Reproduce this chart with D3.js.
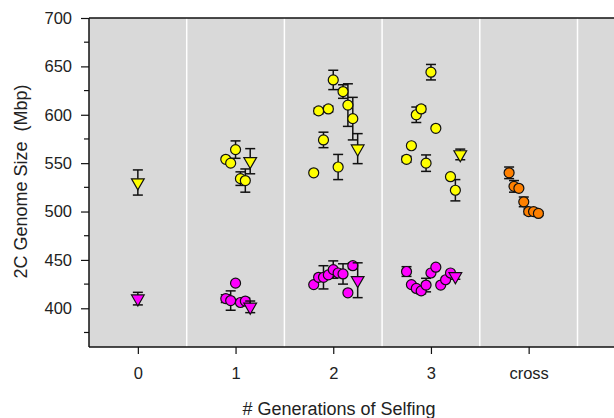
<!DOCTYPE html>
<html>
<head>
<meta charset="utf-8">
<script src="https://cdn.jsdelivr.net/npm/d3@7"></script>
<style>
  body { margin: 0; background: #fff; }
  text { font-family: "Liberation Sans", Arial, sans-serif; fill: #222; }
</style>
</head>
<body>
<div id="container"></div>
<script>
var width = 614,
    height = 418;

// category labels on the x axis (numeric positions 0..4)
var categories = ["0", "1", "2", "3", "cross"];
var yTicks = [400, 450, 500, 550, 600, 650, 700];
var yMinor = [375, 425, 475, 525, 575, 625, 675];

// upper group (yellow circles)
var upperX = [0.9, 0.95, 1.0, 1.05, 1.1,
              1.8, 1.85, 1.9, 1.95, 2.0, 2.05, 2.1, 2.15, 2.2,
              2.75, 2.8, 2.85, 2.9, 2.95, 3.0, 3.05, 3.2, 3.25];
var upperY = [554, 550, 564, 534, 532,
              540, 604, 574, 606, 636, 546, 624, 610, 596,
              554, 568, 600, 606, 550, 644, 586, 536, 522];
var upperErr = [0, 0, 9, 7, 12,
                0, 3, 8, 3, 10, 13, 7, 22, 22,
                3, 0, 8, 3, 8.5, 8, 0, 0, 11];

// upper group (yellow triangles)
var upperTriX = [0, 1.15, 2.25, 3.3];
var upperTriY = [530, 552, 565, 559];
var upperTriErr = [13, 13, 15.5, 5.5];

// lower group (magenta circles)
var lowerX = [0.9, 0.95, 1.0, 1.05, 1.1,
              1.8, 1.85, 1.9, 1.95, 2.0, 2.05, 2.1, 2.15, 2.2,
              2.75, 2.8, 2.85, 2.9, 2.95, 3.0, 3.05, 3.1, 3.15, 3.2];
var lowerY = [410, 408, 426, 406, 407.5,
              424.5, 432, 432, 434.5, 440, 436.5, 435.5, 416, 444,
              438, 424.5, 420.5, 418, 424, 436.5, 442.5, 424, 429.5, 436.5];
var lowerErr = [4, 10, 0, 0, 3,
                0, 0, 12, 0, 9, 0, 10.5, 0, 3,
                5, 0, 0, 3, 7, 0, 0, 0, 0, 0];

// lower group (magenta triangles)
var lowerTriX = [0, 1.15, 2.25, 3.25];
var lowerTriY = [410, 401.5, 429, 433];
var lowerTriErr = [6.5, 6, 18, 3];

// crosses (orange circles)
var crossX = [3.8, 3.85, 3.9, 3.95, 4.0, 4.05, 4.1];
var crossY = [540, 526, 524, 510, 500, 500, 498];
var crossErr = [6, 6, 0, 5, 3, 3, 2];

var svg = d3.select("#container").append("svg")
    .attr("width", width)
    .attr("height", height);

var pLeft = 89, pTop = 18, pBottom = 347;

var x = d3.scaleLinear()
    .domain([-0.5, 5.5])
    .range([pLeft, pLeft + 6 * 97.7]);

var y = d3.scaleLinear()
    .domain([360, 700])
    .range([pBottom, pTop]);

// plot background
svg.append("rect")
    .attr("x", pLeft)
    .attr("y", pTop)
    .attr("width", width - pLeft)
    .attr("height", pBottom - pTop)
    .attr("fill", "#d9d9d9");

// white separators between categories
svg.selectAll(".sep")
    .data([0.5, 1.5, 2.5, 3.5, 4.5])
    .enter().append("line")
    .attr("class", "sep")
    .attr("x1", d => x(d))
    .attr("x2", d => x(d))
    .attr("y1", pTop)
    .attr("y2", pBottom)
    .attr("stroke", "#fff")
    .attr("stroke-width", 1.5);

// top frame line
svg.append("line")
    .attr("x1", pLeft).attr("x2", width)
    .attr("y1", pTop).attr("y2", pTop)
    .attr("stroke", "#111")
    .attr("stroke-width", 1.5);

// y axis
var yAxis = d3.axisLeft(y)
    .tickValues(yTicks)
    .tickSize(8)
    .tickPadding(9);
var gy = svg.append("g")
    .attr("transform", "translate(" + pLeft + ",0)")
    .call(yAxis);
gy.select(".domain").remove();
gy.selectAll("text").style("font-size", "16.5px").attr("fill", "#222");
gy.selectAll("line").attr("stroke", "#111").attr("stroke-width", 1.2);

// minor ticks
svg.selectAll(".minor")
    .data(yMinor)
    .enter().append("line")
    .attr("x1", pLeft - 5)
    .attr("x2", pLeft)
    .attr("y1", d => y(d))
    .attr("y2", d => y(d))
    .attr("stroke", "#111")
    .attr("stroke-width", 1.2);

svg.append("line")
    .attr("x1", pLeft).attr("x2", pLeft)
    .attr("y1", pTop).attr("y2", pBottom)
    .attr("stroke", "#111")
    .attr("stroke-width", 1.5);

// x axis
var xAxis = d3.axisBottom(x)
    .tickValues([0, 1, 2, 3, 4])
    .tickFormat(d => categories[d])
    .tickSize(7)
    .tickPadding(13.5);
var gx = svg.append("g")
    .attr("transform", "translate(0," + pBottom + ")")
    .call(xAxis);
gx.select(".domain").remove();
gx.selectAll("text").style("font-size", "16.5px").attr("fill", "#222");
gx.selectAll("line").attr("stroke", "#111").attr("stroke-width", 1.2);

svg.append("line")
    .attr("x1", pLeft).attr("x2", width)
    .attr("y1", pBottom).attr("y2", pBottom)
    .attr("stroke", "#111")
    .attr("stroke-width", 1.5);

// titles
svg.append("text")
    .attr("x", 339)
    .attr("y", 414.5)
    .attr("text-anchor", "middle")
    .style("font-size", "18px")
    .text("# Generations of Selfing");

svg.append("text")
    .attr("transform", "translate(27," + ((pTop + pBottom) / 2 - 1) + ") rotate(-90)")
    .attr("text-anchor", "middle")
    .style("font-size", "18px")
    .style("white-space", "pre")
    .text("2C Genome Size  (Mbp)");

function zip(xs, ys, es) {
    return xs.map((d, i) => ({ x: d, y: ys[i], e: es[i] }));
}

var seriesList = [
    { pts: zip(upperX, upperY, upperErr), color: "#ffff00", shape: "circle" },
    { pts: zip(upperTriX, upperTriY, upperTriErr), color: "#ffff00", shape: "tri" },
    { pts: zip(lowerX, lowerY, lowerErr), color: "#ff00ff", shape: "circle" },
    { pts: zip(lowerTriX, lowerTriY, lowerTriErr), color: "#ff00ff", shape: "tri" },
    { pts: zip(crossX, crossY, crossErr), color: "#ff8000", shape: "circle" }
];

var capW = 5;
seriesList.forEach(s => {
    var g = svg.append("g");
    var eb = g.selectAll(".eb")
        .data(s.pts.filter(d => d.e > 0))
        .enter().append("g")
        .attr("stroke", "#111")
        .attr("stroke-width", 1.5);
    eb.append("line")
        .attr("x1", d => x(d.x)).attr("x2", d => x(d.x))
        .attr("y1", d => y(d.y - d.e)).attr("y2", d => y(d.y + d.e));
    eb.append("line")
        .attr("x1", d => x(d.x) - capW).attr("x2", d => x(d.x) + capW)
        .attr("y1", d => y(d.y + d.e)).attr("y2", d => y(d.y + d.e));
    eb.append("line")
        .attr("x1", d => x(d.x) - capW).attr("x2", d => x(d.x) + capW)
        .attr("y1", d => y(d.y - d.e)).attr("y2", d => y(d.y - d.e));

    if (s.shape == "circle") {
        g.selectAll(".pt")
            .data(s.pts)
            .enter().append("circle")
            .attr("cx", d => x(d.x))
            .attr("cy", d => y(d.y))
            .attr("r", 5)
            .attr("fill", s.color)
            .attr("stroke", "#111")
            .attr("stroke-width", 1.2);
    } else {
        var tri = d3.symbol().type(d3.symbolTriangle).size(70);
        g.selectAll(".pt")
            .data(s.pts)
            .enter().append("path")
            .attr("d", tri)
            .attr("transform", d => "translate(" + x(d.x) + "," + y(d.y) + ") rotate(180)")
            .attr("fill", s.color)
            .attr("stroke", "#111")
            .attr("stroke-width", 1.2);
    }
});
</script>
</body>
</html>
